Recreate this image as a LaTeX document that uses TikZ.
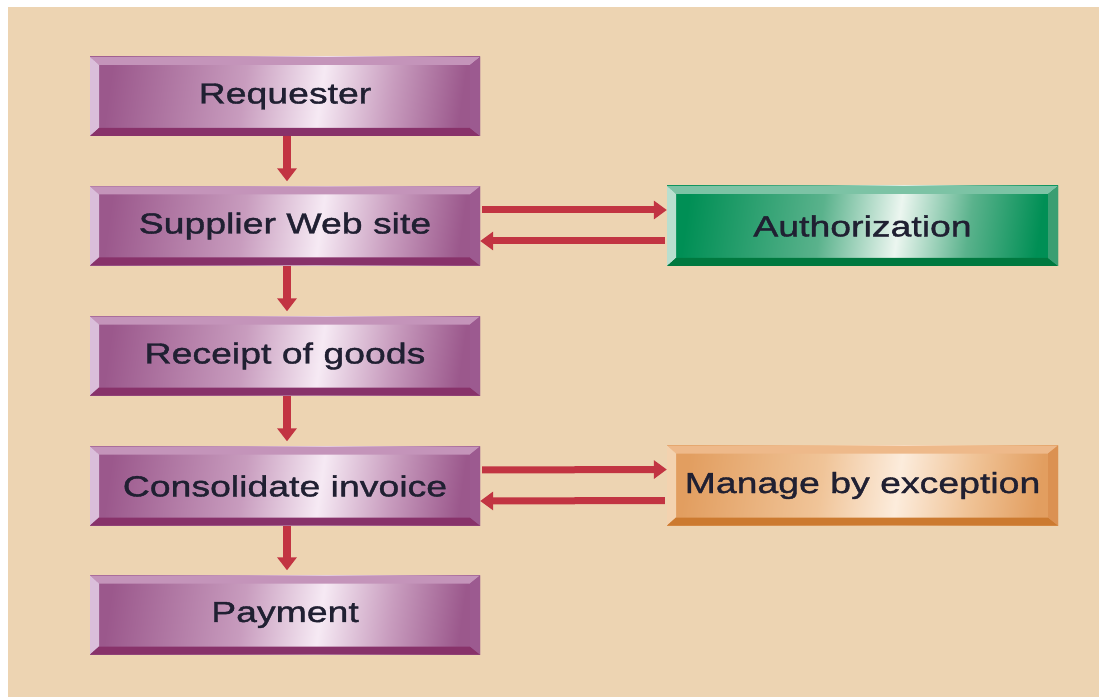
\documentclass[tikz,border=0pt]{standalone}
\usepackage{fontspec}
\setmainfont{Liberation Sans}[FakeStretch=1.29,FakeBold=1.3]
\usetikzlibrary{arrows.meta}
\definecolor{bg}{RGB}{237,212,178}
\definecolor{txt}{RGB}{32,32,50}
\definecolor{arrc}{RGB}{194,52,66}
% purple
\definecolor{pA}{RGB}{155,88,140}
\definecolor{pB}{RGB}{200,156,190}
\definecolor{pW}{RGB}{246,234,244}
\definecolor{pT}{RGB}{196,148,186}
\definecolor{pL}{RGB}{218,190,218}
\definecolor{pD}{RGB}{136,50,106}
\definecolor{pR}{RGB}{156,90,144}
% green
\definecolor{gA}{RGB}{0,143,85}
\definecolor{gB}{RGB}{90,178,140}
\definecolor{gW}{RGB}{236,246,240}
\definecolor{gT}{RGB}{124,195,165}
\definecolor{gL}{RGB}{185,223,207}
\definecolor{gD}{RGB}{0,121,63}
\definecolor{gR}{RGB}{58,158,114}
% orange
\definecolor{oA}{RGB}{226,158,96}
\definecolor{oB}{RGB}{240,196,152}
\definecolor{oW}{RGB}{252,236,220}
\definecolor{oT}{RGB}{238,185,138}
\definecolor{oL}{RGB}{243,210,175}
\definecolor{oD}{RGB}{204,122,48}
\definecolor{oR}{RGB}{219,145,82}
\pgfdeclarehorizontalshading{purpface}{100bp}{color(0bp)=(pA); color(25bp)=(pA); color(44bp)=(pB); color(55bp)=(pW); color(65bp)=(pB); color(75bp)=(pA); color(100bp)=(pA)}
\pgfdeclarehorizontalshading{greenface}{100bp}{color(0bp)=(gA); color(25bp)=(gA); color(44bp)=(gB); color(55bp)=(gW); color(65bp)=(gB); color(75bp)=(gA); color(100bp)=(gA)}
\pgfdeclarehorizontalshading{orangeface}{100bp}{color(0bp)=(oA); color(25bp)=(oA); color(44bp)=(oB); color(55bp)=(oW); color(65bp)=(oB); color(75bp)=(oA); color(100bp)=(oA)}
\tikzset{
  bevelbox/.style n args={4}{
    minimum width=390pt, minimum height=79pt, inner sep=0pt,
    font=\fontsize{29}{32}\selectfont, text=txt,
    path picture={
      \fill[#1] (path picture bounding box.north west) -- (path picture bounding box.north east)
        -- ([xshift=-10pt,yshift=-8pt]path picture bounding box.north east)
        -- ([xshift=9pt,yshift=-8pt]path picture bounding box.north west) -- cycle;
      \fill[#2] (path picture bounding box.north west)
        -- ([xshift=9pt,yshift=-8pt]path picture bounding box.north west)
        -- ([xshift=9pt,yshift=8pt]path picture bounding box.south west)
        -- (path picture bounding box.south west) -- cycle;
      \fill[#3] (path picture bounding box.south west)
        -- ([xshift=9pt,yshift=8pt]path picture bounding box.south west)
        -- ([xshift=-10pt,yshift=8pt]path picture bounding box.south east)
        -- (path picture bounding box.south east) -- cycle;
      \fill[#4] (path picture bounding box.north east)
        -- (path picture bounding box.south east)
        -- ([xshift=-10pt,yshift=8pt]path picture bounding box.south east)
        -- ([xshift=-10pt,yshift=-8pt]path picture bounding box.north east) -- cycle;
    }},
  purplebox/.style={bevelbox={pT}{pL}{pD}{pR}, shading=purpface, shading angle=-8},
  greenbox/.style={bevelbox={gT}{gL}{gD}{gR}, shading=greenface, shading angle=-8, minimum width=391pt, minimum height=80pt},
  orangebox/.style={bevelbox={oT}{oL}{oD}{oR}, shading=orangeface, shading angle=-8, minimum width=391pt, minimum height=80pt},
  varr/.style={draw=arrc, line width=8pt, -{Triangle[length=13pt,width=19pt]}, shorten >=5pt},
  harr/.style={draw=arrc, line width=7pt, -{Triangle[length=13pt,width=18pt]}, shorten <=2pt},
}
\begin{document}
\begin{tikzpicture}[x=1pt,y=1pt]
\fill[white] (0,0) rectangle (1099,697);
\fill[bg] (8,0) rectangle (1099,690);
\useasboundingbox (0,0) rectangle (1099,697);
\node[purplebox] (req) at (285,600.5) {Requester};
\node[purplebox] (sup) at (285,471) {Supplier Web site};
\node[purplebox] (rec) at (285,341) {Receipt of goods};
\node[purplebox] (con) at (285,211) {Consolidate invoice};
\node[purplebox] (pay) at (285,82) {Payment};
\node[greenbox] (auth) at (862.5,471) {Authorization};
\node[orangebox] (man) at (862.5,211.5) {Manage by exception};
\draw[varr] ([xshift=2pt]req.south) -- ([xshift=2pt]sup.north);
\draw[varr] ([xshift=2pt]sup.south) -- ([xshift=2pt]rec.north);
\draw[varr] ([xshift=2pt]rec.south) -- ([xshift=2pt]con.north);
\draw[varr] ([xshift=2pt]con.south) -- ([xshift=2pt]pay.north);
\draw[harr] ([yshift=16pt]sup.east) -- ([yshift=16pt]auth.west);
\draw[harr] ([yshift=-15pt]auth.west) -- ([yshift=-15pt]sup.east);
\draw[harr] ([yshift=16pt]con.east) -- ([yshift=16pt]man.west);
\draw[harr] ([yshift=-15pt]man.west) -- ([yshift=-15pt]con.east);
\end{tikzpicture}
\end{document}
